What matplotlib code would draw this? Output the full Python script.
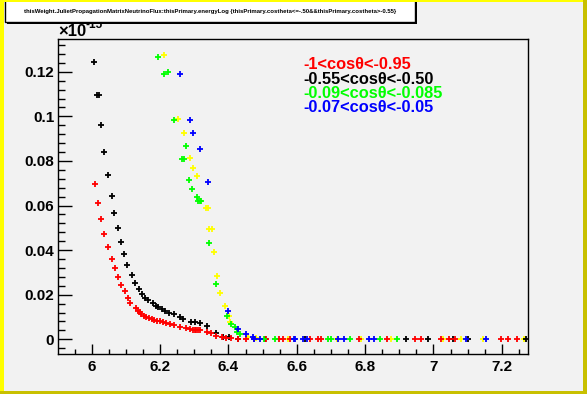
import matplotlib
matplotlib.use("Agg")
import matplotlib.pyplot as plt
from matplotlib.patches import Rectangle
from matplotlib.ticker import MultipleLocator, FuncFormatter

plt.rcParams['font.family'] = ['Liberation Sans', 'DejaVu Sans']

# values in units of 1e-15
red_x = [6.009, 6.017, 6.027, 6.036, 6.048, 6.058, 6.068, 6.077, 6.086, 6.097,
         6.106, 6.113, 6.129, 6.134, 6.140, 6.145, 6.152, 6.160, 6.168, 6.175,
         6.182, 6.191, 6.199, 6.209, 6.217, 6.228, 6.241, 6.258, 6.275, 6.287,
         6.296, 6.301, 6.306, 6.311, 6.316, 6.336, 6.350, 6.365, 6.380, 6.394,
         6.409, 6.428, 6.452, 6.476, 6.511, 6.547, 6.560, 6.580, 6.640, 6.662,
         6.671, 6.781, 6.865, 6.945, 6.963, 7.021, 7.046, 7.062, 7.199, 7.219,
         7.243]
red_y = [0.0695, 0.0610, 0.0538, 0.0472, 0.0413, 0.0359, 0.0318, 0.0278, 0.0242, 0.0215,
         0.0184, 0.0161, 0.0139, 0.0126, 0.0122, 0.0112, 0.0106, 0.0101, 0.0097, 0.0092,
         0.0088, 0.0083, 0.0081, 0.0076, 0.0072, 0.0069, 0.0063, 0.0054, 0.0049, 0.0045,
         0.0040, 0.0040, 0.0040, 0.0040, 0.0040, 0.0031, 0.0027, 0.0015, 0.0009, 0.0004,
         0.0004, 0.0, 0.0, 0.0, 0.0, 0.0, 0.0, 0.0, 0.0, 0.0,
         0.0, 0.0, 0.0, 0.0, 0.0, 0.0, 0.0, 0.0, 0.0, 0.0,
         0.0]

black_x = [6.007, 6.016, 6.021, 6.027, 6.037, 6.048, 6.058, 6.064, 6.077, 6.087,
           6.095, 6.103, 6.118, 6.127, 6.138, 6.148, 6.155, 6.166, 6.179, 6.187,
           6.194, 6.207, 6.213, 6.226, 6.240, 6.258, 6.267, 6.290, 6.301, 6.317,
           6.337, 6.365, 6.384, 6.402, 6.428, 6.506, 6.623, 6.920, 6.985, 7.057,
           7.100, 7.270]
black_y = [0.1242, 0.1094, 0.1094, 0.0960, 0.0839, 0.0735, 0.0641, 0.0565, 0.0498, 0.0435,
           0.0381, 0.0332, 0.0287, 0.0251, 0.0224, 0.0202, 0.0184, 0.0176, 0.0161, 0.0149,
           0.0143, 0.0135, 0.0126, 0.0119, 0.0112, 0.0099, 0.0090, 0.0079, 0.0076, 0.0072,
           0.0058, 0.0027, 0.0012, 0.0009, 0.0003, 0.0, 0.0, 0.0, 0.0, 0.0,
           0.0, 0.0]

green_x = [6.194, 6.212, 6.223, 6.241, 6.264, 6.270, 6.276, 6.285, 6.294, 6.307,
           6.311, 6.316, 6.321, 6.343, 6.364, 6.397, 6.408, 6.419, 6.425, 6.434,
           6.503, 6.536, 6.690, 6.700, 6.755, 6.843, 6.892]
green_y = [0.1265, 0.1188, 0.1197, 0.0982, 0.0807, 0.0807, 0.0865, 0.0713, 0.0673, 0.0637,
           0.0619, 0.0619, 0.0619, 0.0430, 0.0247, 0.0103, 0.0067, 0.0054, 0.0031, 0.0022,
           0.0, 0.0, 0.0, 0.0, 0.0, 0.0, 0.0]

yellow_x = [6.212, 6.253, 6.270, 6.288, 6.296, 6.308, 6.335, 6.340, 6.343, 6.351,
            6.358, 6.367, 6.375, 6.390, 6.402, 6.404, 6.457, 6.481, 6.574, 6.717,
            6.788, 6.876, 7.027, 7.082, 7.144, 7.265]
yellow_y = [0.1274, 0.0987, 0.0924, 0.0812, 0.0767, 0.0731, 0.0587, 0.0587, 0.0493, 0.0493,
            0.0390, 0.0283, 0.0206, 0.0148, 0.0103, 0.0076, 0.0009, 0.0004, 0.0, 0.0,
            0.0, 0.0, 0.0, 0.0, 0.0, 0.0]

blue_x = [6.258, 6.288, 6.296, 6.318, 6.340, 6.399, 6.428, 6.452, 6.471, 6.476,
          6.492, 6.591, 6.596, 6.618, 6.629, 6.722, 6.739, 6.810, 6.826, 7.095,
          7.155]
blue_y = [0.1188, 0.0982, 0.0924, 0.0852, 0.0704, 0.0126, 0.0045, 0.0022, 0.0009, 0.0,
          0.0, 0.0, 0.0, 0.0, 0.0, 0.0, 0.0, 0.0, 0.0, 0.0,
          0.0]

labels = ['-1<cos\u03b8<-0.95', '-0.55<cos\u03b8<-0.50',
          '-0.09<cos\u03b8<-0.085', '-0.07<cos\u03b8<-0.05']
label_colors = ['#ff0000', '#000000', '#00ff00', '#0000ff']
title = ('thisWeight.JulietPropagationMatrixNeutrinoFlux:thisPrimary.energyLog '
         '{thisPrimary.costheta<=-.50&&thisPrimary.costheta>-0.55}')

W, H = 587, 394
bg = '#f2f2f2'
fig = plt.figure(figsize=(W / 100, H / 100), dpi=100, facecolor=bg)
ax = fig.add_axes([58.4 / W, 40 / H, (528 - 58.4) / W, (354 - 39) / H])
ax.set_facecolor(bg)

series = [(yellow_x, yellow_y, '#ffff00'), (black_x, black_y, '#000000'),
          (red_x, red_y, '#ff0000'), (green_x, green_y, '#00ff00'),
          (blue_x, blue_y, '#0000ff')]
for xs, ys, c in series:
    ax.plot(xs, ys, linestyle='none', marker='+', color=c, ms=3.8, mew=1.3)

ax.set_xlim(5.9025, 7.2766)
ax.set_ylim(-0.0066, 0.1347)
ax.xaxis.set_major_locator(MultipleLocator(0.2))
ax.xaxis.set_minor_locator(MultipleLocator(0.05))
ax.yaxis.set_major_locator(MultipleLocator(0.02))
ax.yaxis.set_minor_locator(MultipleLocator(0.004))
fmt = FuncFormatter(lambda v, p: '%g' % round(v, 4))
ax.xaxis.set_major_formatter(fmt)
ax.yaxis.set_major_formatter(fmt)
ax.tick_params(axis='both', which='both', direction='in', top=False, right=False,
               labelsize=11, width=1)
ax.tick_params(axis='y', which='major', length=10, pad=3)
ax.tick_params(axis='y', which='minor', length=5)
ax.tick_params(axis='x', which='major', length=7, pad=4)
ax.tick_params(axis='x', which='minor', length=3.5)
for lab in ax.get_xticklabels() + ax.get_yticklabels():
    lab.set_fontweight('bold')
for s in ax.spines.values():
    s.set_linewidth(1)

# exponent
fig.text(58 / W, 1 - 32 / H, '\u00d710', fontsize=12, fontweight='bold', va='center', ha='left')
fig.text(85 / W, 1 - 25 / H, '-15', fontsize=8.5, fontweight='bold', va='center', ha='left')

# legend texts
ys_leg = [64.5, 79.5, 94, 107.5]
for lab, c, yy in zip(labels, label_colors, ys_leg):
    fig.text(303 / W, 1 - yy / H, lab, color=c, fontsize=11.8, fontweight='bold',
             va='center', ha='left')

# title box with shadow
fig.patches.append(Rectangle((7 / W, 1 - 23.5 / H), 410 / W, 22 / H, transform=fig.transFigure,
                             facecolor='black', edgecolor='none', zorder=5))
fig.patches.append(Rectangle((5 / W, 1 - 21.5 / H), 410 / W, 22 / H, transform=fig.transFigure,
                             facecolor='white', edgecolor='black', lw=1, zorder=6))
fig.text(210 / W, 1 - 12 / H, title, fontsize=4.3, fontweight='bold', ha='center', va='center',
         zorder=7)

# canvas border
fig.patches.append(Rectangle((0, 0), 4 / W, 1, transform=fig.transFigure,
                             facecolor='#ffff00', edgecolor='none', zorder=8))
fig.patches.append(Rectangle((0, 1 - 2 / H), 1, 2 / H, transform=fig.transFigure,
                             facecolor='#ffff00', edgecolor='none', zorder=8))
fig.patches.append(Rectangle((0, 0), 1, 3 / H, transform=fig.transFigure,
                             facecolor='#c8c000', edgecolor='none', zorder=9))
fig.patches.append(Rectangle((1 - 4 / W, 0), 4 / W, 1, transform=fig.transFigure,
                             facecolor='#c8c000', edgecolor='none', zorder=9))

fig.savefig('out.png', dpi=100, facecolor=bg)
